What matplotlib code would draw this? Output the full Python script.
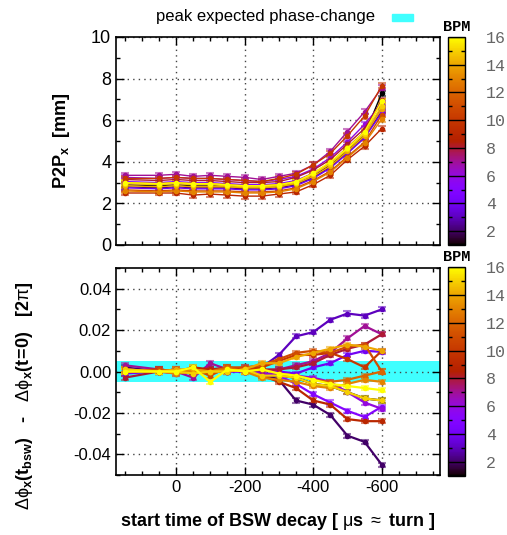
import numpy as np
import matplotlib
matplotlib.use('Agg')
import matplotlib.pyplot as plt
from matplotlib.colors import Normalize, to_rgba
from matplotlib.colorbar import ColorbarBase
from matplotlib.patches import Rectangle
from matplotlib.ticker import MultipleLocator, FixedLocator

plt.rcParams['font.family'] = ['Liberation Sans', 'DejaVu Sans']
plt.rcParams['mathtext.fontset'] = 'custom'
plt.rcParams['mathtext.rm'] = 'Liberation Sans'
plt.rcParams['mathtext.bf'] = 'Liberation Sans:bold'
plt.rcParams['mathtext.it'] = 'Liberation Sans:italic'
plt.rcParams['axes.unicode_minus'] = False

# start time of BSW decay [us ~ turn]
t = [150, 50, 0, -50, -100, -150, -200, -250, -300, -350, -400, -450, -500, -550, -600]
bpm = list(range(1, 17))

# peak-to-peak amplitude [mm], one row per BPM
p2p = [
    [2.90, 2.85, 2.90, 2.85, 2.85, 2.85, 2.80, 2.80, 2.85, 2.95, 3.30, 3.85, 4.55, 5.30, 7.30],
    [2.80, 2.75, 2.80, 2.75, 2.75, 2.75, 2.70, 2.70, 2.75, 2.90, 3.25, 3.75, 4.45, 5.20, 6.45],
    [2.95, 2.90, 2.95, 2.90, 2.90, 2.90, 2.85, 2.85, 2.90, 3.05, 3.40, 3.90, 4.60, 5.35, 6.60],
    [2.75, 2.70, 2.75, 2.70, 2.70, 2.70, 2.65, 2.65, 2.70, 2.85, 3.20, 3.70, 4.40, 5.15, 6.35],
    [3.05, 3.00, 3.05, 3.00, 3.00, 2.95, 2.90, 2.90, 2.95, 3.10, 3.45, 3.95, 4.65, 5.40, 6.50],
    [3.25, 3.20, 3.25, 3.20, 3.20, 3.15, 3.10, 3.05, 3.15, 3.30, 3.65, 4.20, 4.95, 5.80, 6.80],
    [3.35, 3.35, 3.40, 3.30, 3.35, 3.30, 3.25, 3.15, 3.30, 3.45, 3.85, 4.50, 5.45, 6.40, 7.55],
    [3.15, 3.10, 3.15, 3.10, 3.10, 3.05, 3.00, 3.00, 3.05, 3.25, 3.60, 4.10, 4.85, 5.60, 6.95],
    [2.50, 2.50, 2.50, 2.40, 2.45, 2.40, 2.35, 2.35, 2.45, 2.55, 2.90, 3.35, 4.10, 4.75, 5.60],
    [3.20, 3.20, 3.25, 3.20, 3.20, 3.15, 3.10, 3.05, 3.20, 3.40, 3.85, 4.40, 5.25, 6.20, 7.65],
    [2.65, 2.60, 2.65, 2.60, 2.60, 2.60, 2.55, 2.55, 2.60, 2.75, 3.10, 3.55, 4.25, 4.95, 6.25],
    [3.00, 2.95, 3.00, 2.95, 2.95, 2.90, 2.85, 2.85, 2.90, 3.05, 3.45, 3.95, 4.70, 5.45, 6.90],
    [2.60, 2.55, 2.60, 2.55, 2.55, 2.55, 2.50, 2.50, 2.55, 2.70, 3.05, 3.50, 4.20, 4.90, 6.05],
    [2.85, 2.80, 2.85, 2.80, 2.80, 2.80, 2.75, 2.75, 2.80, 2.95, 3.30, 3.80, 4.50, 5.25, 6.55],
    [2.95, 2.90, 2.95, 2.90, 2.90, 2.85, 2.80, 2.80, 2.85, 3.00, 3.40, 3.90, 4.60, 5.35, 6.70],
    [3.00, 2.95, 3.00, 2.95, 2.95, 2.90, 2.85, 2.85, 2.90, 3.05, 3.45, 4.00, 4.65, 5.45, 6.90],
]
p2p_err = 0.12

# phase advance change [2pi], one row per BPM
dphi = [
    [0.001, 0.000, 0.000, -0.001, 0.000, 0.000, 0.001, -0.002, -0.002, -0.003, -0.006, -0.007, -0.010, -0.013, -0.014],
    [0.002, 0.000, 0.000, 0.001, 0.000, 0.000, 0.001, -0.001, -0.004, -0.014, -0.016, -0.021, -0.031, -0.034, -0.045],
    [0.001, 0.000, 0.000, 0.001, 0.000, 0.001, 0.000, 0.002, 0.008, 0.017, 0.019, 0.025, 0.028, 0.027, 0.030],
    [-0.001, 0.000, 0.001, 0.000, 0.001, 0.000, 0.000, 0.001, 0.000, -0.001, 0.002, 0.004, 0.008, 0.010, 0.0095],
    [0.000, 0.001, 0.000, 0.000, 0.001, 0.000, 0.000, -0.001, -0.002, -0.006, -0.011, -0.015, -0.019, -0.022, -0.017],
    [0.001, 0.000, -0.001, 0.000, 0.000, 0.001, 0.000, -0.001, -0.001, -0.002, -0.003, -0.005, -0.010, -0.015, -0.018],
    [0.003, 0.001, 0.000, -0.003, 0.004, 0.001, 0.002, 0.000, 0.001, 0.003, 0.005, 0.009, 0.016, 0.022, 0.018],
    [-0.003, 0.000, 0.001, 0.000, 0.001, 0.002, 0.001, 0.001, 0.001, 0.002, 0.004, 0.008, 0.011, 0.013, 0.018],
    [0.000, 0.001, 0.000, 0.002, 0.001, 0.001, 0.000, -0.002, -0.005, -0.008, -0.014, -0.016, -0.023, -0.024, -0.024],
    [0.001, 0.000, 0.001, 0.000, 0.000, 0.001, 0.001, 0.002, 0.005, 0.008, 0.008, 0.009, 0.006, 0.002, 0.010],
    [0.000, 0.001, 0.000, 0.001, -0.002, 0.002, 0.002, 0.003, 0.006, 0.009, 0.010, 0.009, 0.012, 0.013, 0.000],
    [0.000, 0.000, 0.000, 0.001, 0.000, 0.002, 0.000, 0.001, -0.001, -0.002, -0.004, -0.005, -0.004, -0.002, 0.000],
    [0.001, 0.000, -0.001, 0.000, 0.000, 0.001, 0.000, -0.003, -0.004, -0.005, -0.007, -0.008, -0.006, -0.004, -0.005],
    [0.000, 0.000, 0.001, 0.001, 0.000, 0.000, 0.001, 0.004, 0.004, 0.007, 0.009, 0.011, 0.013, 0.012, 0.010],
    [0.001, 0.000, 0.000, -0.001, 0.000, 0.000, 0.001, -0.002, -0.002, -0.003, -0.006, -0.007, -0.010, -0.013, -0.014],
    [0.000, 0.000, 0.000, 0.002, -0.005, 0.001, 0.000, 0.001, -0.001, -0.002, -0.004, -0.006, -0.007, -0.008, -0.009],
]
dphi_err = 0.001

band = 0.005
cyan = '#40ffff'

cmap = plt.get_cmap('gnuplot')
norm = Normalize(1, 16)

W, H = 507, 535
fig = plt.figure(figsize=(W / 100, H / 100), dpi=100)
ax1 = fig.add_axes([116 / W, 1 - 245 / H, 324 / W, 208 / H])
ax2 = fig.add_axes([116 / W, 1 - 475 / H, 324 / W, 207 / H])

ax2.axhspan(-band, band, color=cyan, lw=0, zorder=1)

for i in range(len(bpm)):
    c = cmap(norm(bpm[i]))
    ax1.errorbar(t, p2p[i], yerr=p2p_err, color=c, lw=1, marker='o', ms=3,
                 ecolor=to_rgba(c, 0.55), elinewidth=1, capsize=3, capthick=1.5)
    ax2.errorbar(t, dphi[i], yerr=dphi_err, color=c, lw=1.6, marker='o', ms=3,
                 ecolor=to_rgba(c, 0.55), elinewidth=1, capsize=3, capthick=1.5)

for ax in (ax1, ax2):
    ax.set_xlim(175, -770)
    ax.xaxis.set_major_locator(FixedLocator([0, -200, -400, -600]))
    ax.xaxis.set_minor_locator(MultipleLocator(50))
    ax.grid(True, which='major', linestyle=(0, (1, 3)), color='#444444', lw=1)
    ax.tick_params(which='both', direction='in', top=True, right=True, width=1)
    ax.tick_params(which='major', length=6)
    ax.tick_params(which='minor', length=3)
    for s in ax.spines.values():
        s.set_linewidth(1.2)

ax1.set_ylim(0, 10)
ax1.yaxis.set_major_locator(MultipleLocator(2))
ax1.yaxis.set_minor_locator(MultipleLocator(1))
ax1.tick_params(labelbottom=False, labelsize=13)

ax2.set_ylim(-0.05, 0.05)
ax2.yaxis.set_major_locator(FixedLocator([-0.04, -0.02, 0.0, 0.02, 0.04]))
ax2.yaxis.set_minor_locator(MultipleLocator(0.01))
ax2.set_yticklabels(['-0.04', '-0.02', '0.00', '0.02', '0.04'])
ax2.set_xticklabels(['0', '-200', '-400', '-600'])
ax2.tick_params(labelsize=12)

# colour boxes
for top, hgt in ((37, 208), (267, 209)):
    cax = fig.add_axes([448 / W, 1 - (top + hgt) / H, 17 / W, hgt / H])
    cb = ColorbarBase(cax, cmap=cmap, norm=norm, orientation='vertical')
    cb.outline.set_linewidth(1)
    cb.set_ticks(list(range(2, 17, 2)))
    cax.set_yticklabels([str(v) for v in range(2, 17, 2)],
                        fontfamily='Liberation Mono', fontsize=12, color='#666666')
    cax.tick_params(which='major', length=0, pad=15)
    cax.yaxis.set_minor_locator(FixedLocator(list(range(3, 17, 2))))
    cax.tick_params(which='minor', direction='in', left=True, right=True, length=3, width=1)
    for v in range(2, 17, 2):
        cax.axhline(v, color='black', lw=1)
    fig.text(457 / W, 1 - (top - 10) / H, 'BPM', fontfamily='Liberation Mono',
             fontweight='bold', fontsize=11, ha='center', va='center')

# key
fig.text(266 / W, 1 - 17 / H, 'peak expected phase-change', fontsize=12,
         ha='center', va='center')
fig.patches.append(Rectangle((392 / W, 1 - 20.5 / H), 21 / W, 6.5 / H,
                             color=cyan, transform=fig.transFigure, figure=fig))

fig.text(62 / W, 1 - 141 / H, r'P2P$_\mathbf{x}$  [mm]', fontsize=13,
         fontweight='bold', rotation=90, ha='center', va='center')
fig.text(25 / W, 1 - 396 / H,
         r'$\mathrm{\Delta\phi}_\mathbf{x}\mathbf{(t_{bsw})}$   -   '
         r'$\mathrm{\Delta\phi}_\mathbf{x}\mathbf{(t\!=\!0)}$   [2$\mathrm{\pi}$]',
         fontsize=13, fontweight='bold', rotation=90, ha='center', va='center')
fig.text(278 / W, 1 - 522 / H, r'start time of BSW decay [ $\mathrm{\mu}$s $\approx$ turn ]',
         fontsize=13, fontweight='bold', ha='center', va='center')

fig.savefig('out.png', dpi=100)
